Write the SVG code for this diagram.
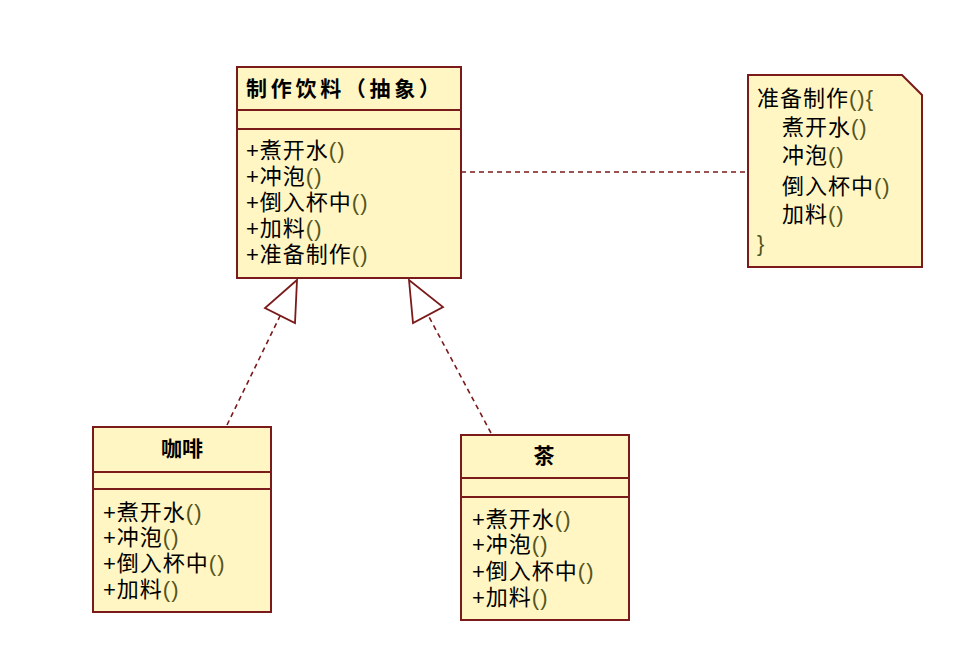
<svg xmlns="http://www.w3.org/2000/svg" width="958" height="652" viewBox="0 0 958 652">
<style>
.box{fill:#fff6c4;stroke:#7a1a1a;stroke-width:2}
.sep{stroke:#7a1a1a;stroke-width:2}
.t{font-family:"Liberation Sans","Noto Sans CJK SC",sans-serif;font-size:22px;letter-spacing:1px;fill:#000}
.b{font-weight:bold;font-size:21px;letter-spacing:0}
.p{fill:#555522}
.dash{fill:none;stroke:#7a1a1a;stroke-width:1.6;stroke-dasharray:5 4}
.tri{fill:#fff;stroke:#7a1a1a;stroke-width:1.8}
</style>
<rect width="958" height="652" fill="#fff"/>
<g id="connectors">
  <line class="dash" x1="461" y1="172" x2="748" y2="172"/>
  <line class="dash" x1="227" y1="425" x2="280" y2="316"/>
  <polygon class="tri" points="297,280 265,308 295,323"/>
  <line class="dash" x1="491" y1="433" x2="428" y2="315"/>
  <polygon class="tri" points="409,280 413,323 443,307"/>
</g>
<g id="abstract">
  <rect class="box" x="237" y="67" width="224" height="211"/>
  <line class="sep" x1="237" y1="110" x2="461" y2="110"/>
  <line class="sep" x1="237" y1="129" x2="461" y2="129"/>
  <text class="t b" x="246" y="96" textLength="194" lengthAdjust="spacing">制作饮料（抽象）</text>
  <text class="t" x="246" y="158">+煮开水<tspan class="p">()</tspan></text>
  <text class="t" x="246" y="184">+冲泡<tspan class="p">()</tspan></text>
  <text class="t" x="246" y="210">+倒入杯中<tspan class="p">()</tspan></text>
  <text class="t" x="246" y="236">+加料<tspan class="p">()</tspan></text>
  <text class="t" x="246" y="262">+准备制作<tspan class="p">()</tspan></text>
</g>
<g id="note">
  <path class="box" d="M748,75 H902 L922,95 V267 H748 Z"/>
  <text class="t" x="757" y="106">准备制作<tspan class="p">(){</tspan></text>
  <text class="t" x="782" y="135">煮开水<tspan class="p">()</tspan></text>
  <text class="t" x="782" y="163">冲泡<tspan class="p">()</tspan></text>
  <text class="t" x="782" y="194">倒入杯中<tspan class="p">()</tspan></text>
  <text class="t" x="782" y="222">加料<tspan class="p">()</tspan></text>
  <text class="t p" x="757" y="251">}</text>
</g>
<g id="coffee">
  <rect class="box" x="93" y="427" width="178" height="185"/>
  <line class="sep" x1="93" y1="472" x2="271" y2="472"/>
  <line class="sep" x1="93" y1="489" x2="271" y2="489"/>
  <text class="t b" x="182" y="456" text-anchor="middle">咖啡</text>
  <text class="t" x="103" y="520">+煮开水<tspan class="p">()</tspan></text>
  <text class="t" x="103" y="545">+冲泡<tspan class="p">()</tspan></text>
  <text class="t" x="103" y="571">+倒入杯中<tspan class="p">()</tspan></text>
  <text class="t" x="103" y="597">+加料<tspan class="p">()</tspan></text>
</g>
<g id="tea">
  <rect class="box" x="461" y="435" width="168" height="185"/>
  <line class="sep" x1="461" y1="478" x2="629" y2="478"/>
  <line class="sep" x1="461" y1="497" x2="629" y2="497"/>
  <text class="t b" x="544" y="463" text-anchor="middle">茶</text>
  <text class="t" x="472" y="527">+煮开水<tspan class="p">()</tspan></text>
  <text class="t" x="472" y="552">+冲泡<tspan class="p">()</tspan></text>
  <text class="t" x="472" y="579">+倒入杯中<tspan class="p">()</tspan></text>
  <text class="t" x="472" y="605">+加料<tspan class="p">()</tspan></text>
</g>
</svg>
